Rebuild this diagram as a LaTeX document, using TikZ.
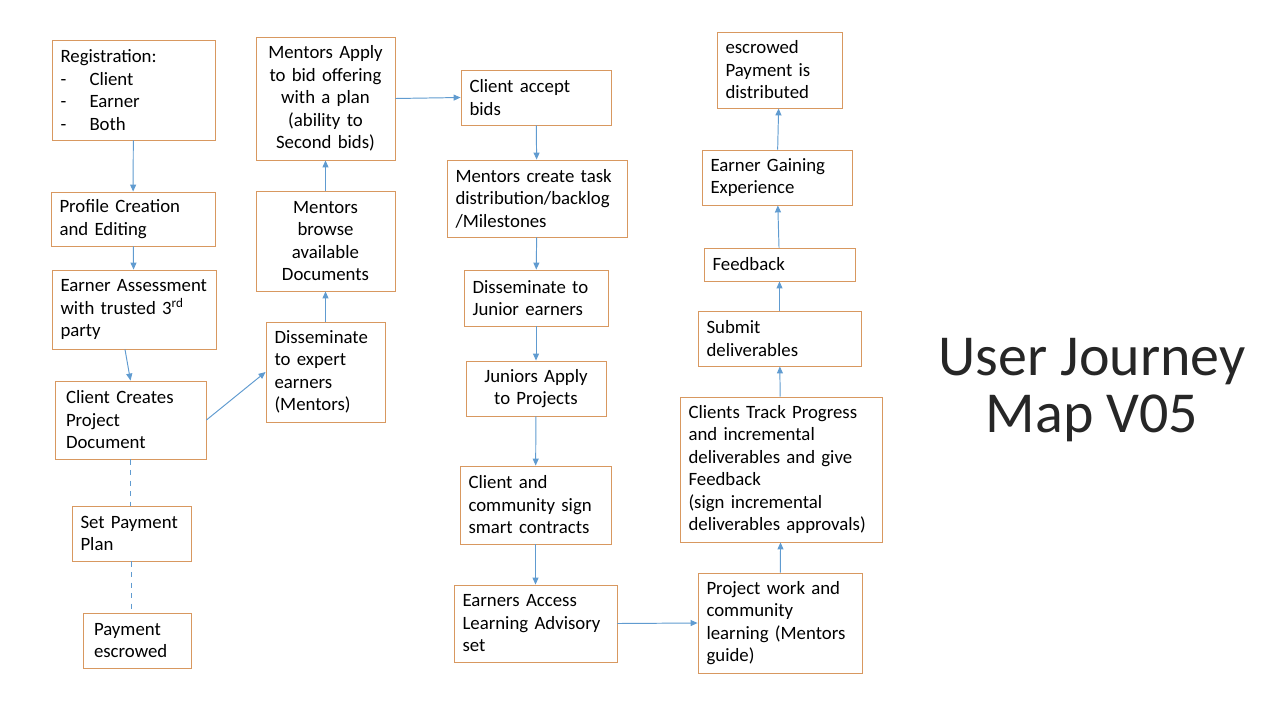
\documentclass[tikz,border=0pt]{standalone}
\usepackage{fontspec}
\setmainfont{Carlito}
\usepackage{tikz}
\usetikzlibrary{arrows.meta,positioning}
\definecolor{boxorange}{RGB}{216,152,96}
\definecolor{flowblue}{RGB}{96,155,208}

\begin{document}
\begin{tikzpicture}[x=0.02cm,y=-0.02cm,
    jbox/.style={draw=boxorange,line width=0.5pt,fill=white,inner xsep=0.17cm,inner ysep=1pt,
      align=left,font=\fontsize{10.7}{12.8}\selectfont},
    cbox/.style={jbox,align=center},
    flow/.style={draw=flowblue,line width=0.55pt,-{Triangle[length=1.4mm,width=1.2mm]}},
    link/.style={draw=flowblue,line width=0.55pt,dashed}]
    \useasboundingbox (0,0) rectangle (1280,720);
    % left column
    \node[jbox,text width=2.92cm,minimum height=2.0cm] (reg) at (133.5,90)
      {Registration:\\ \makebox[0.58cm][l]{-}Client\\ \makebox[0.58cm][l]{-}Earner\\ \makebox[0.58cm][l]{-}Both};
    \node[jbox,text width=2.94cm,minimum height=1.08cm] (prof) at (133,219) {Profile Creation\\ and Editing};
    \node[jbox,text width=2.94cm,minimum height=1.58cm] (assess) at (134,309.5)
      {Earner Assessment\\ with trusted 3\textsuperscript{rd}\\ party};
    \node[jbox,text width=2.68cm,minimum height=1.56cm,inner xsep=0.22cm,text width=2.58cm] (create) at (130.5,420)
      {Client Creates\\ Project\\ Document};
    \node[jbox,text width=2.04cm,minimum height=1.10cm] (payplan) at (131.5,533.5) {Set Payment\\ Plan};
    \node[jbox,inner xsep=0.22cm,text width=1.72cm,minimum height=1.10cm] (escrow) at (137,640.5) {Payment\\ escrowed};
    % mentors
    \node[cbox,text width=2.44cm,minimum height=2.46cm] (apply) at (325.5,98.5)
      {Mentors Apply\\ to bid offering\\ with a plan\\ (ability to\\ Second bids)};
    \node[cbox,text width=2.44cm,minimum height=2.0cm] (browse) at (325.5,241)
      {Mentors\\ browse\\ available\\ Documents};
    \node[jbox,text width=2.04cm,minimum height=2.0cm] (expert) at (325.5,372)
      {Disseminate\\ to expert\\ earners\\ (Mentors)};
    % project column
    \node[jbox,text width=2.66cm,minimum height=1.10cm] (accept) at (536,97.5) {Client accept\\ bids};
    \node[jbox,text width=3.26cm,minimum height=1.54cm] (tasks) at (537,198.5)
      {Mentors create task\\ distribution/backlog\\ /Milestones};
    \node[jbox,text width=2.54cm,minimum height=1.12cm] (junior) at (536,298) {Disseminate to\\ Junior earners};
    \node[cbox,text width=2.46cm,minimum height=1.10cm] (jrapply) at (536,388.5) {Juniors Apply\\ to Projects};
    \node[jbox,text width=2.68cm,minimum height=1.56cm] (sign) at (535.5,505)
      {Client and\\ community sign\\ smart contracts};
    \node[jbox,text width=2.92cm,minimum height=1.54cm] (access) at (535.5,623.5)
      {Earners Access\\ Learning Advisory\\ set};
    % delivery column
    \node[jbox,text width=2.94cm,minimum height=2.0cm] (work) at (780,623)
      {Project work and\\ community\\ learning (Mentors\\ guide)};
    \node[jbox,text width=3.70cm,minimum height=2.90cm] (track) at (781,469.5)
      {Clients Track Progress\\ and incremental\\ deliverables and give\\ Feedback\\ (sign incremental\\ deliverables approvals)};
    \node[jbox,text width=2.92cm,minimum height=1.10cm] (submit) at (779.5,338.5) {Submit\\ deliverables};
    \node[jbox,text width=2.68cm,minimum height=0.66cm] (feedback) at (779.5,264.5) {Feedback};
    \node[jbox,text width=2.66cm,minimum height=1.10cm] (gain) at (777,177.5) {Earner Gaining\\ Experience};
    \node[jbox,text width=2.16cm,minimum height=1.52cm] (paid) at (779.5,70)
      {escrowed\\ Payment is\\ distributed};
    % title
    \node[align=center,font=\fontsize{33}{32}\selectfont,text=black!85] (title) at (1092,390) {User Journey\\ Map V05};
    % connectors
    \draw[flow] (reg) -- (prof);
    \draw[flow] (prof) -- (assess);
    \draw[flow] ([xshift=-0.18cm]assess.south) -- (create.north);
    \draw[flow] (create.east) -- (expert.west);
    \draw[flow] (expert) -- (browse);
    \draw[flow] (browse) -- (apply);
    \draw[flow] (apply.east) -- (accept.west);
    \draw[flow] (accept) -- (tasks);
    \draw[flow] (tasks) -- (junior);
    \draw[flow] (junior) -- (jrapply);
    \draw[flow] (jrapply) -- (sign);
    \draw[flow] (sign) -- (access);
    \draw[flow] (access.east) -- (work.west);
    \draw[flow] (work) -- (track);
    \draw[flow] (track) -- (submit);
    \draw[flow] (submit) -- (feedback);
    \draw[flow] (feedback) -- (gain);
    \draw[flow] (gain) -- (paid);
    \draw[link] (create.south) -- (create.south |- payplan.north);
    \draw[link] (payplan.south) -- (payplan.south |- escrow.north);
\end{tikzpicture}
\end{document}
